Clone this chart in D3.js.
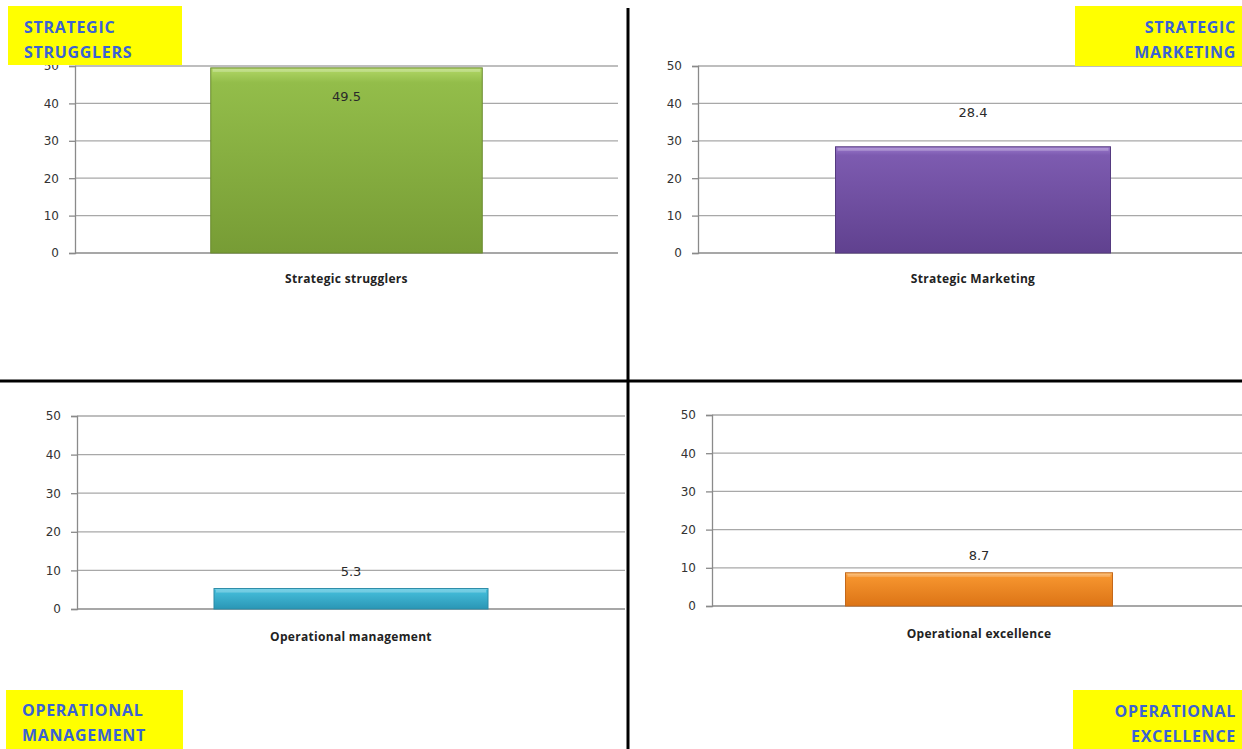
<!DOCTYPE html>
<html>
<head>
<meta charset="utf-8">
<script src="https://cdn.jsdelivr.net/npm/d3@7"></script>
<style>
html,body{margin:0;padding:0;background:#fff;}
svg{display:block;}
</style>
</head>
<body>
<script>
// ---- data ----
const categories = ["Strategic strugglers", "Strategic Marketing", "Operational management", "Operational excellence"];
const values = [49.5, 28.4, 5.3, 8.7];
const quadrantTitles = [["STRATEGIC", "STRUGGLERS"], ["STRATEGIC", "MARKETING"], ["OPERATIONAL", "MANAGEMENT"], ["OPERATIONAL", "EXCELLENCE"]];
const yTicks = [0, 10, 20, 30, 40, 50];
const yDomain = [0, 50];

// ---- layout / styling ----
const W = 1242, H = 749;
const panels = [
  {x0: 75,  x1: 618,  yBottom: 253, yTop: 66,  catY: 283, lblDy: 30,  colors: ["#b2d867", "#93bd4a", "#779c35"], stroke: "#6a8a2e"},
  {x0: 698, x1: 1248, yBottom: 253, yTop: 66,  catY: 283, lblDy: -33, colors: ["#9a78cc", "#7d5bb0", "#60418f"], stroke: "#553a80"},
  {x0: 77,  x1: 625,  yBottom: 609, yTop: 416, catY: 641, lblDy: -16, colors: ["#8fe2f4", "#45bedb", "#2a96b5"], stroke: "#2a8aa6"},
  {x0: 712, x1: 1246, yBottom: 606, yTop: 415, catY: 638, lblDy: -16, colors: ["#ffc06e", "#f7962f", "#dc7416"], stroke: "#c4681a"}
];
const titleBoxes = [
  {x: 8,    y: 6,   w: 174, h: 59, anchor: "start", tx: 24,   ty: [33, 58]},
  {x: 1075, y: 6,   w: 167, h: 60, anchor: "end",   tx: 1236, ty: [33, 58]},
  {x: 6,    y: 690, w: 177, h: 59, anchor: "start", tx: 22,   ty: [716, 741]},
  {x: 1073, y: 690, w: 169, h: 59, anchor: "end",   tx: 1236, ty: [717, 742]}
];

const svg = d3.select("body").append("svg").attr("width", W).attr("height", H);
const defs = svg.append("defs");

panels.forEach((p, i) => {
  const gid = "grad" + i;
  const lg = defs.append("linearGradient").attr("id", gid).attr("x1", 0).attr("y1", 0).attr("x2", 0).attr("y2", 1);
  lg.append("stop").attr("offset", "0%").attr("stop-color", p.colors[0]);
  lg.append("stop").attr("offset", "8%").attr("stop-color", p.colors[1]);
  lg.append("stop").attr("offset", "100%").attr("stop-color", p.colors[2]);

  const y = d3.scaleLinear().domain(yDomain).range([p.yBottom, p.yTop]);
  const x = d3.scaleBand().domain([categories[i]]).range([p.x0, p.x1]).paddingInner(0).paddingOuter(0.5);

  const g = svg.append("g");

  // gridlines
  g.append("g").selectAll("line").data(yTicks.filter(t => t > 0)).join("line")
    .attr("x1", p.x0).attr("x2", p.x1)
    .attr("y1", d => y(d)).attr("y2", d => y(d))
    .attr("stroke", "#a8a8a8").attr("stroke-width", 1.3);

  // y axis
  const ax = g.append("g").attr("transform", `translate(${p.x0},0)`)
    .call(d3.axisLeft(y).tickValues(yTicks).tickSize(6).tickPadding(10).tickFormat(d3.format("d")));
  ax.select(".domain").attr("stroke", "#8a8a8a").attr("stroke-width", 1.3);
  ax.selectAll(".tick line").attr("stroke", "#8a8a8a").attr("stroke-width", 1.3);
  ax.selectAll(".tick text").attr("fill", "#333").style("font-family", "'DejaVu Sans', sans-serif").style("font-size", "12px");

  // baseline
  g.append("line").attr("x1", p.x0).attr("x2", p.x1).attr("y1", y(0)).attr("y2", y(0))
    .attr("stroke", "#8a8a8a").attr("stroke-width", 1.5);

  // bar
  const v = values[i];
  g.append("rect")
    .attr("x", x(categories[i])).attr("width", x.bandwidth())
    .attr("y", y(v)).attr("height", y(0) - y(v))
    .attr("fill", `url(#${gid})`).attr("stroke", p.stroke).attr("stroke-width", 1);
  // top bevel highlight
  g.append("rect")
    .attr("x", x(categories[i]) + 2).attr("width", x.bandwidth() - 4)
    .attr("y", y(v) + 1).attr("height", 3)
    .attr("fill", "#fff").attr("opacity", 0.25);

  // value label
  g.append("text")
    .attr("x", x(categories[i]) + x.bandwidth() / 2)
    .attr("y", y(v) + p.lblDy)
    .attr("text-anchor", "middle").attr("dominant-baseline", "middle")
    .attr("fill", "#2a2a2a").style("font-family", "'DejaVu Sans', sans-serif").style("font-size", "13px")
    .text(d3.format(".1f")(v));

  // category label
  g.append("text")
    .attr("x", x(categories[i]) + x.bandwidth() / 2)
    .attr("y", p.catY)
    .attr("text-anchor", "middle")
    .attr("fill", "#222").style("font-family", "'Open Sans', sans-serif").style("font-size", "12px").style("font-weight", "bold")
    .style("letter-spacing", "0.3px")
    .text(categories[i]);
});

// dividers
svg.append("line").attr("x1", 628).attr("x2", 628).attr("y1", 8).attr("y2", H).attr("stroke", "#000").attr("stroke-width", 3);
svg.append("line").attr("x1", 0).attr("x2", W).attr("y1", 381).attr("y2", 381).attr("stroke", "#000").attr("stroke-width", 3);

// quadrant titles
titleBoxes.forEach((b, i) => {
  svg.append("rect").attr("x", b.x).attr("y", b.y).attr("width", b.w).attr("height", b.h).attr("fill", "#ffff00");
  quadrantTitles[i].forEach((t, j) => {
    svg.append("text").attr("x", b.tx).attr("y", b.ty[j]).attr("text-anchor", b.anchor)
      .attr("fill", "#3a62d4").style("font-family", "'Open Sans', sans-serif").style("font-size", "16px").style("font-weight", "bold")
      .style("letter-spacing", "0.7px")
      .text(t);
  });
});
</script>
</body>
</html>
